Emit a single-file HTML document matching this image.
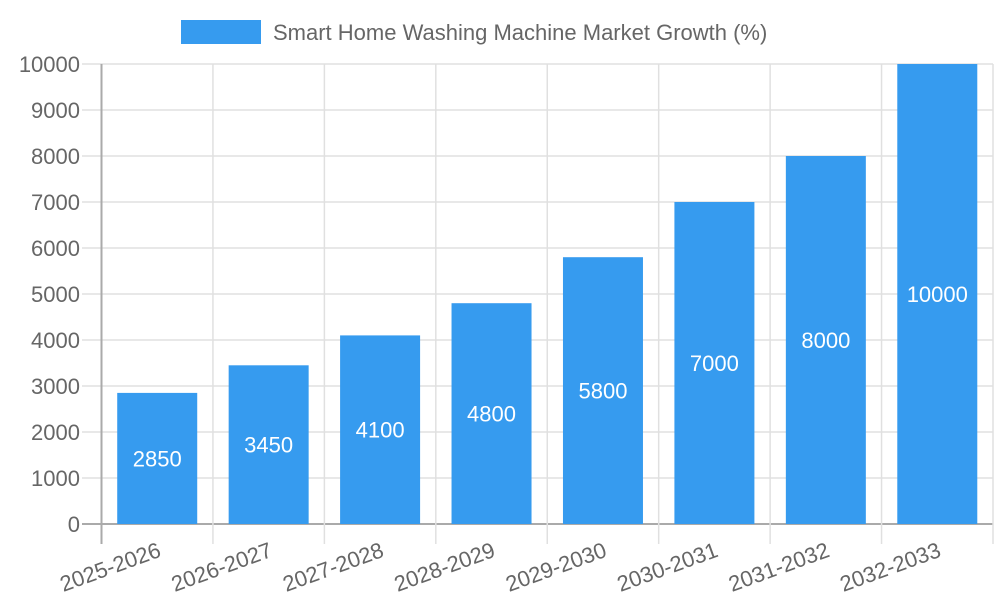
<!DOCTYPE html>
<html><head><meta charset="utf-8"><style>body{margin:0;background:#fff}svg{display:block;font-family:"Liberation Sans",sans-serif}</style></head>
<body>
<svg id="c" width="1000" height="600">
<rect x="181" y="20" width="80" height="24" fill="#369bef"/>
<text x="273" y="40" font-size="22" fill="#666">Smart Home Washing Machine Market Growth (%)</text>
</svg>
<script>
const categories=["2025-2026","2026-2027","2027-2028","2028-2029","2029-2030","2030-2031","2031-2032","2032-2033"];
const values=[2850,3450,4100,4800,5800,7000,8000,10000];
const yTicks=[0,1000,2000,3000,4000,5000,6000,7000,8000,9000,10000];
const svg=document.getElementById('c');const NS='http://www.w3.org/2000/svg';
const L=101.5,R=993,T=64,B=524,yMax=10000;
const y=v=>B-(v/yMax)*(B-T);
const bw=(R-L)/categories.length;const x=i=>L+i*bw;
function mk(t,a,p){const e=document.createElementNS(NS,t);for(const k in a)e.setAttribute(k,a[k]);(p||svg).appendChild(e);return e;}
const g=mk('g',{});


yTicks.forEach(v=>{const l=mk('line',{x1:82,x2:R,y1:y(v),y2:y(v),stroke:v===0?'#aaa':'#e0e0e0','stroke-width':v===0?2:1.5},g);


const t=mk('text',{x:80,y:y(v)+8,'text-anchor':'end','font-size':22,fill:'#666'});t.textContent=v;

});
for(let i=0;i<=categories.length;i++){const l=mk('line',{x1:x(i),x2:x(i),y1:T,y2:B+20,stroke:i===0?'#aaa':'#e0e0e0','stroke-width':i===0?2:1.5},g);

}
categories.forEach((c,i)=>{const cx=x(i)+bw/2,w=80;
const r=mk('rect',{x:cx-w/2,y:y(values[i]),width:w,height:B-y(values[i]),fill:'#369bef'});


const t=mk('text',{x:cx,y:(y(values[i])+B)/2+8,'text-anchor':'middle','font-size':22,fill:'#fff'});t.textContent=values[i];


const xl=mk('text',{x:0,y:0,'text-anchor':'end','font-size':22,fill:'#666',transform:`translate(${cx+5},${B+32}) rotate(-20)`});xl.textContent=c;

});
</script>
</body></html>
